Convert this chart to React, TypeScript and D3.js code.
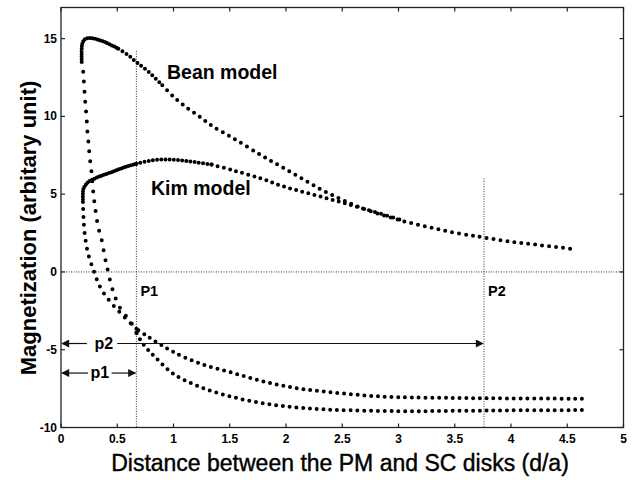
import React from "react";
import * as d3 from "d3";

// ---- data ----
const xTicks = [0, 0.5, 1, 1.5, 2, 2.5, 3, 3.5, 4, 4.5, 5];
const xTickLabels = ["0", "0.5", "1", "1.5", "2", "2.5", "3", "3.5", "4", "4.5", "5"];
const yTicks = [-10, -5, 0, 5, 10, 15];
const yTickLabels = ["-10", "-5", "0", "5", "10", "15"];

// Bean model loop
const beanUpperNear: [number, number][] = [
  [0.184, 13.5], [0.184, 14.3], [0.19, 14.7], [0.21, 14.95], [0.24, 15.03], [0.28, 15.02],
  [0.32, 14.95], [0.39, 14.78], [0.51, 14.35],
];
const beanUpperMid: [number, number][] = [
  [0.51, 14.35], [0.6, 13.92], [0.67, 13.49], [0.78, 12.85], [0.9, 12.0],
];
const beanUpperFar: [number, number][] = [
  [0.9, 12.0], [1.01, 11.2], [1.13, 10.5], [1.24, 9.95],
  [1.34, 9.4], [1.53, 8.6], [1.78, 7.5], [1.95, 6.8], [2.12, 6.1], [2.3, 5.35],
  [2.48, 4.7], [2.66, 4.15], [2.84, 3.7], [3.04, 3.27], [3.24, 2.93], [3.43, 2.62],
  [3.64, 2.35], [3.77, 2.2], [4.02, 1.92], [4.26, 1.72], [4.53, 1.49],
];
const beanLowerSteep: [number, number][] = [
  [0.67, -3.9], [0.61, -3.1], [0.54, -2.5], [0.48, -1.6], [0.44, -0.65], [0.41, 0.3],
  [0.39, 0.95], [0.36, 2.1], [0.33, 2.9], [0.31, 3.8], [0.29, 4.9], [0.27, 6.5],
  [0.255, 7.4], [0.245, 8.24], [0.235, 9.0], [0.227, 9.95], [0.218, 10.7], [0.21, 11.46],
  [0.2, 12.6], [0.19, 13.5],
];
const beanLowerFar: [number, number][] = [
  [4.63, -8.88], [4.0, -8.9], [3.5, -8.93], [3.0, -8.95], [2.42, -8.86], [2.12, -8.73],
  [1.83, -8.48], [1.53, -8.05], [1.24, -7.4], [1.0, -6.55], [0.84, -5.5], [0.76, -4.9],
  [0.7, -4.3], [0.67, -3.9],
];

// Kim model loop
const kimUpperNear: [number, number][] = [
  [0.195, 4.5], [0.195, 5.1], [0.2, 5.35], [0.24, 5.77], [0.33, 6.1], [0.45, 6.42],
  [0.57, 6.74], [0.67, 6.96],
];
const kimUpperMid: [number, number][] = [
  [0.67, 6.96], [0.81, 7.17], [0.94, 7.23], [1.07, 7.17], [1.19, 7.06], [1.34, 6.9],
];
const kimUpperFar: [number, number][] = [
  [1.34, 6.9], [1.53, 6.53], [1.78, 6.0], [1.95, 5.56], [2.12, 5.2], [2.3, 4.86], [2.48, 4.5],
  [2.66, 4.12], [2.84, 3.75], [3.04, 3.3],
];
const kimLowerSteep: [number, number][] = [
  [0.67, -3.65], [0.55, -2.8], [0.44, -1.94], [0.35, -1.0], [0.29, 0.1], [0.24, 1.2],
  [0.21, 2.5], [0.2, 3.5], [0.195, 4.5],
];
const kimLowerFar: [number, number][] = [
  [4.63, -8.15], [4.0, -8.13], [3.5, -8.1], [3.0, -8.05], [2.72, -7.95], [2.42, -7.75],
  [2.12, -7.5], [1.83, -7.1], [1.53, -6.5], [1.24, -5.9], [1.0, -5.15], [0.87, -4.6],
  [0.76, -4.1], [0.67, -3.65],
];

const p1X = 0.67;
const p2X = 3.76;
const p1Top = 14.2;
const p2Top = 6;
const p1ArrowY = -6.5;
const p2ArrowY = -4.6;

// ---- styling / layout ----
const W = 634;
const H = 480;
const FONT = "'Liberation Sans', Arial, sans-serif";

const series = [
  { data: beanUpperNear, gap: 2.6 },
  { data: beanUpperMid, gap: 4.8 },
  { data: beanUpperFar, gap: 7 },
  { data: beanLowerSteep, gap: 10 },
  { data: beanLowerFar, gap: 6.8 },
  { data: kimUpperNear, gap: 2.6 },
  { data: kimUpperMid, gap: 4.2 },
  { data: kimUpperFar, gap: 6.3 },
  { data: kimLowerSteep, gap: 8 },
  { data: kimLowerFar, gap: 6.8 },
];

export default function App() {
  const x = d3.scaleLinear().domain([0, 5]).range([61, 623.5]);
  const y = d3.scaleLinear().domain([-10, 17]).range([427.5, 7.5]);
  const line = d3
    .line<[number, number]>()
    .x((d) => x(d[0]))
    .y((d) => y(d[1]))
    .curve(d3.curveCatmullRom.alpha(0.5));

  const x0 = x(0), x1 = x(5), yTop = y(17), yBot = y(-10);
  const tick = 4;

  return (
    <svg width={W} height={H} style={{ position: "absolute", left: 0, top: 0, background: "#fff" }}>
      <defs>
        <marker id="ah" viewBox="0 0 10 10" refX="9" refY="5" markerWidth="9" markerHeight="8" orient="auto-start-reverse" markerUnits="userSpaceOnUse">
          <path d="M0,0 L10,5 L0,10 z" fill="#111" />
        </marker>
      </defs>
      <rect x={0} y={0} width={W} height={H} fill="#fff" />

      {/* reference lines */}
      <line x1={x0} x2={x1} y1={y(0)} y2={y(0)} stroke="#333" strokeWidth={1} strokeDasharray="1 1.5" />
      <line x1={x(p1X)} x2={x(p1X)} y1={y(p1Top)} y2={yBot} stroke="#333" strokeWidth={1} strokeDasharray="1 1.5" />
      <line x1={x(p2X)} x2={x(p2X)} y1={y(p2Top)} y2={yBot} stroke="#333" strokeWidth={1} strokeDasharray="1 1.5" />

      {/* curves */}
      {series.map((s, i) => (
        <path
          key={i}
          d={line(s.data) || ""}
          fill="none"
          stroke="#000"
          strokeWidth={4}
          strokeLinecap="round"
          strokeDasharray={`0 ${s.gap}`}
        />
      ))}

      {/* arrows */}
      <line x1={x0 + 1} x2={x(0.23)} y1={y(p2ArrowY)} y2={y(p2ArrowY)} stroke="#111" strokeWidth={1.2} markerStart="url(#ah)" />
      <line x1={x(0.5)} x2={x(p2X) - 1} y1={y(p2ArrowY)} y2={y(p2ArrowY)} stroke="#111" strokeWidth={1.2} markerEnd="url(#ah)" />
      <line x1={x0 + 1} x2={x(0.24)} y1={y(p1ArrowY)} y2={y(p1ArrowY)} stroke="#111" strokeWidth={1.2} markerStart="url(#ah)" />
      <line x1={x(0.45)} x2={x(p1X) - 1} y1={y(p1ArrowY)} y2={y(p1ArrowY)} stroke="#111" strokeWidth={1.2} markerEnd="url(#ah)" />
      <text x={x(0.38)} y={y(p2ArrowY) + 5} textAnchor="middle" fontFamily={FONT} fontWeight="bold" fontSize={16}>p2</text>
      <text x={x(0.345)} y={y(p1ArrowY) + 5} textAnchor="middle" fontFamily={FONT} fontWeight="bold" fontSize={16}>p1</text>

      {/* point labels */}
      <text x={x(p1X) + 4} y={y(0) + 24} fontFamily={FONT} fontWeight="bold" fontSize={14.5}>P1</text>
      <text x={x(p2X) + 4} y={y(0) + 24} fontFamily={FONT} fontWeight="bold" fontSize={14.5}>P2</text>
      <text x={167} y={79} fontFamily={FONT} fontWeight="bold" fontSize={19.5}>Bean model</text>
      <text x={151} y={195} fontFamily={FONT} fontWeight="bold" fontSize={19.5}>Kim model</text>

      {/* frame */}
      <rect x={x0} y={yTop} width={x1 - x0} height={yBot - yTop} fill="none" stroke="#222" strokeWidth={1.3} />
      {xTicks.map((t, i) => (
        <g key={"xt" + i}>
          <line x1={x(t)} x2={x(t)} y1={yBot} y2={yBot - tick} stroke="#222" strokeWidth={1.2} />
          <line x1={x(t)} x2={x(t)} y1={yTop} y2={yTop + tick} stroke="#222" strokeWidth={1.2} />
          <text x={x(t)} y={yBot + 15} textAnchor="middle" fontFamily={FONT} fontWeight="bold" fontSize={12}>{xTickLabels[i]}</text>
        </g>
      ))}
      {yTicks.map((t, i) => (
        <g key={"yt" + i}>
          <line x1={x0} x2={x0 + tick} y1={y(t)} y2={y(t)} stroke="#222" strokeWidth={1.2} />
          <line x1={x1} x2={x1 - tick} y1={y(t)} y2={y(t)} stroke="#222" strokeWidth={1.2} />
          <text x={x0 - 4} y={y(t) + 4} textAnchor="end" fontFamily={FONT} fontWeight="bold" fontSize={12}>{yTickLabels[i]}</text>
        </g>
      ))}

      {/* axis titles */}
      <text x={340} y={471} textAnchor="middle" fontFamily={FONT} fontSize={23} stroke="#000" strokeWidth={0.4}>Distance between the PM and SC disks (d/a)</text>
      <text transform={`translate(36, ${228}) rotate(-90)`} textAnchor="middle" fontFamily={FONT} fontWeight="bold" fontSize={22}>Magnetization (arbitary unit)</text>
    </svg>
  );
}
